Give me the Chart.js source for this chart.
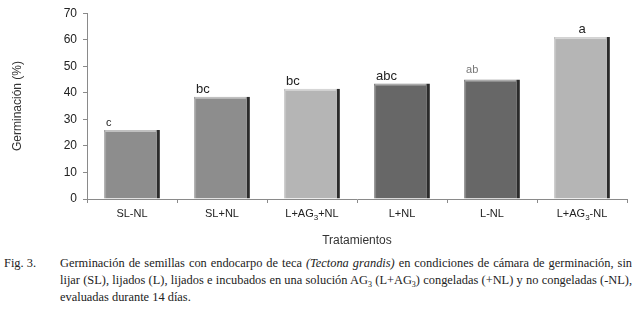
<!DOCTYPE html>
<html>
<head>
<meta charset="utf-8">
<script src="https://cdn.jsdelivr.net/npm/chart.js@4.4.0/dist/chart.umd.min.js"></script>
<style>
    body { margin: 0; background: #fff; width: 637px; height: 309px; overflow: hidden; }
    #wrap { position: relative; width: 637px; height: 252px; }
    .caption {
        display: flex;
        font-family: 'Liberation Serif', 'Times New Roman', serif;
        font-size: 12.4px;
        line-height: 17px;
        color: #222;
        margin-top: 3px;
    }
    .caption .fig { width: 56px; padding-left: 4px; flex: none; }
    .caption p { margin: 0; width: 572px; text-align: justify; }
    sub { font-size: 8px; line-height: 0; }
</style>
</head>
<body>
<div id="wrap"><canvas id="germ-chart-id" width="637" height="252"></canvas></div>
<div class="caption">
    <div class="fig">Fig. 3.</div>
    <p>Germinación de semillas con endocarpo de teca <i>(Tectona grandis)</i> en condiciones de cámara de germinación, sin lijar (SL), lijados (L), lijados e incubados en una solución AG<sub>3</sub> (L+AG<sub>3</sub>) congeladas (+NL) y no congeladas (-NL), evaluadas durante 14 días.</p>
</div>
<script>
const TRATAMIENTOS = ['SL-NL', 'SL+NL', 'L+AG3+NL', 'L+NL', 'L-NL', 'L+AG3-NL']
const GERMINACION = [26, 38.5, 41.5, 43.5, 45, 61]
const LETRAS = ['c', 'bc', 'bc', 'abc', 'ab', 'a']

const MID_GRAY = '#8d8d8d'
const LIGHT_GRAY = '#b5b5b5'
const DARK_GRAY = '#676767'
const SHADOW = '#2b2b2b'
const AXIS_COLOR = '#8a8a8a'
const FONT = "'Liberation Sans', Arial, sans-serif"

const BAR_COLORS = [MID_GRAY, MID_GRAY, LIGHT_GRAY, DARK_GRAY, DARK_GRAY, LIGHT_GRAY]

// draws a label, turning the "3" after "AG" into a subscript
function drawSubLabel(ctx, text, cx, y) {
    const parts = text.split('AG3')
    ctx.font = '11px ' + FONT
    const subFont = '8px ' + FONT
    let total = 0
    parts.forEach((p, i) => {
        total += ctx.measureText(p).width
        if (i < parts.length - 1) {
            total += ctx.measureText('AG').width
            ctx.font = subFont
            total += ctx.measureText('3').width
            ctx.font = '11px ' + FONT
        }
    })
    let x = cx - total / 2
    ctx.textAlign = 'left'
    parts.forEach((p, i) => {
        ctx.fillText(p, x, y)
        x += ctx.measureText(p).width
        if (i < parts.length - 1) {
            ctx.fillText('AG', x, y)
            x += ctx.measureText('AG').width
            ctx.font = subFont
            ctx.fillText('3', x, y + 4)
            x += ctx.measureText('3').width
            ctx.font = '11px ' + FONT
        }
    })
}

const extrasPlugin = {
    id: 'extras',
    afterDatasetsDraw(chart) {
        const ctx = chart.ctx
        const meta = chart.getDatasetMeta(0)
        ctx.save()
        // bevel highlight on top of each bar
        meta.data.forEach(bar => {
            const left = bar.x - bar.width / 2
            ctx.fillStyle = 'rgba(255,255,255,0.45)'
            ctx.fillRect(left + 1, bar.y, bar.width - 5, 2)
            ctx.fillStyle = 'rgba(255,255,255,0.2)'
            ctx.fillRect(left, bar.y + 2, 2, bar.base - bar.y - 2)
        })
        // significance letters
        ctx.textBaseline = 'alphabetic'
        ctx.textAlign = 'left'
        meta.data.forEach((bar, i) => {
            const light = LETRAS[i] === 'ab'
            const small = LETRAS[i] === 'c'
            ctx.font = (light || small ? '11px ' : '13px ') + FONT
            ctx.fillStyle = light ? '#777' : '#222'
            const left = bar.x - bar.width / 2
            const x = i === LETRAS.length - 1 ? bar.x - ctx.measureText(LETRAS[i]).width / 2 : left + 2
            ctx.fillText(LETRAS[i], x, bar.y - (light ? 7 : 4))
        })
        // category labels
        ctx.fillStyle = '#222'
        ctx.textBaseline = 'middle'
        const xScale = chart.scales.x
        TRATAMIENTOS.forEach((t, i) => {
            drawSubLabel(ctx, t, xScale.getPixelForValue(i), 214)
        })
        // axis titles
        ctx.font = '12px ' + FONT
        ctx.fillStyle = '#333'
        ctx.textAlign = 'center'
        ctx.fillText('Tratamientos', (chart.chartArea.left + chart.chartArea.right) / 2, 241)
        ctx.translate(18, 106)
        ctx.rotate(-Math.PI / 2)
        ctx.fillText('Germinación (%)', 0, 0)
        ctx.restore()
    }
}

const data = {
    labels: TRATAMIENTOS,
    datasets: [
        {
            data: GERMINACION,
            backgroundColor: BAR_COLORS,
            borderColor: SHADOW,
            borderWidth: { top: 0, left: 0, bottom: 0, right: 3 },
            borderSkipped: false,
            categoryPercentage: 1,
            barPercentage: 0.62
        }
    ]
}

const config = {
    type: 'bar',
    data: data,
    plugins: [extrasPlugin],
    options: {
        responsive: false,
        animation: false,
        events: [],
        layout: {
            padding: { left: 0, top: 13, right: 10, bottom: 53 }
        },
        plugins: {
            legend: { display: false },
            tooltip: { enabled: false }
        },
        scales: {
            x: {
                grid: {
                    offset: true,
                    drawOnChartArea: false,
                    drawTicks: true,
                    tickLength: 4,
                    color: AXIS_COLOR
                },
                border: { color: AXIS_COLOR, width: 1 },
                ticks: { display: false },
                afterFit: s => { s.height = 0 }
            },
            y: {
                min: 0,
                max: 70,
                grid: {
                    drawOnChartArea: false,
                    drawTicks: true,
                    tickLength: 4,
                    color: AXIS_COLOR
                },
                border: { color: AXIS_COLOR, width: 1 },
                ticks: {
                    stepSize: 10,
                    padding: 6,
                    color: '#222',
                    font: { family: FONT, size: 12 }
                },
                afterFit: s => { s.width = 87 }
            }
        }
    }
}

const el = document.getElementById('germ-chart-id')
new Chart(el, config)
</script>
</body>
</html>
